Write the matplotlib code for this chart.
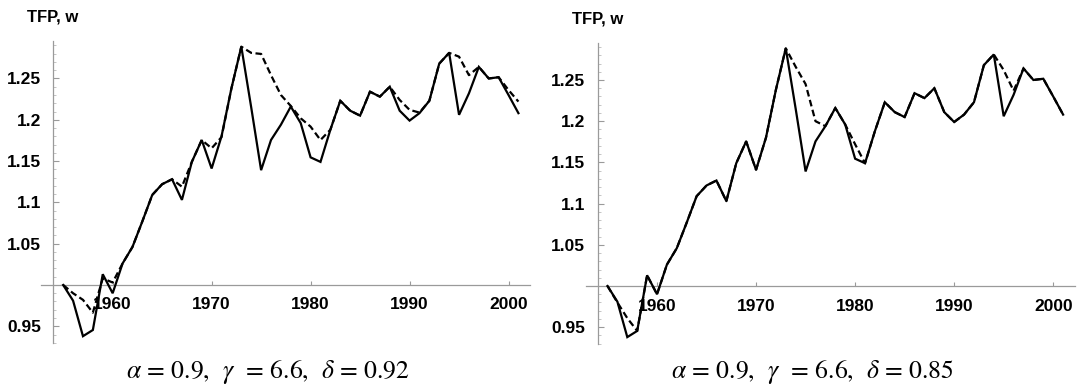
import matplotlib
matplotlib.use("Agg")
import matplotlib.pyplot as plt
from matplotlib.ticker import MultipleLocator, FixedLocator, FuncFormatter

plt.rcParams['mathtext.fontset'] = 'stix'
plt.rcParams['font.family'] = ['Liberation Sans', 'DejaVu Sans']

years = list(range(1955, 2002))

tfp_observed = [1.000, 0.981, 0.938, 0.9455, 1.013, 0.990, 1.026, 1.046, 1.077, 1.109,
                1.122, 1.128, 1.103, 1.149, 1.1755, 1.141, 1.180, 1.238, 1.2885, 1.215,
                1.139, 1.1755, 1.194, 1.216, 1.196, 1.1545, 1.149, 1.188, 1.223, 1.211,
                1.205, 1.234, 1.228, 1.240, 1.211, 1.199, 1.208, 1.223, 1.268, 1.281,
                1.206, 1.232, 1.264, 1.250, 1.2515, 1.230, 1.208]

w_delta_092 = [1.000, 0.990, 0.982, 0.9665, 1.008, 1.003, 1.026, 1.046, 1.077, 1.109,
               1.122, 1.128, 1.119, 1.149, 1.1755, 1.1655, 1.179, 1.238, 1.2885, 1.281,
               1.2797, 1.254, 1.230, 1.2167, 1.2018, 1.1917, 1.1755, 1.188, 1.223, 1.211,
               1.205, 1.234, 1.228, 1.240, 1.224, 1.212, 1.2087, 1.223, 1.268, 1.281,
               1.2764, 1.254, 1.264, 1.250, 1.2515, 1.236, 1.222]

w_delta_085 = [1.000, 0.980, 0.961, 0.9455, 1.013, 0.990, 1.026, 1.046, 1.077, 1.109,
               1.122, 1.128, 1.103, 1.149, 1.1755, 1.141, 1.180, 1.238, 1.2885, 1.266,
               1.245, 1.200, 1.194, 1.216, 1.196, 1.172, 1.149, 1.188, 1.223, 1.211,
               1.205, 1.234, 1.228, 1.240, 1.211, 1.199, 1.208, 1.223, 1.268, 1.281,
               1.262, 1.237, 1.264, 1.250, 1.2515, 1.230, 1.208]

x_ticks = [1960, 1970, 1980, 1990, 2000]
y_ticks = [0.95, 1.05, 1.1, 1.15, 1.2, 1.25]
y_label = "TFP, w"
titles = [r"$\alpha$ = 0.9,  $\gamma$  = 6.6,  $\delta$ = 0.92",
          r"$\alpha$ = 0.9,  $\gamma$  = 6.6,  $\delta$ = 0.85"]
model_series = [w_delta_092, w_delta_085]

W, H = 1081, 390
fig = plt.figure(figsize=(W / 100, H / 100), dpi=100)

xlim = (1952.8, 2002.2)
ylim = (0.93, 1.295)
# pixel boxes: (left, right, top, bottom)
boxes = [(41.4, 530.3, 41.3, 342.8), (585.7, 1075.0, 42.9, 343.7)]
label_pos = [(26.7, 17.5), (571.7, 18.5)]
title_x = [268, 812]

gray = '#9a9a9a'

def fmt(v, pos):
    s = ('%.2f' % v).rstrip('0')
    return s

for i in range(2):
    l, r, t, b = boxes[i]
    ax = fig.add_axes([l / W, 1 - b / H, (r - l) / W, (b - t) / H])
    ax.plot(years, model_series[i], color='black', lw=1.6, dashes=(3, 1.6),
            solid_capstyle='butt', zorder=3)
    ax.plot(years, tfp_observed, color='black', lw=1.6, zorder=4,
            solid_joinstyle='miter')
    ax.set_xlim(*xlim)
    ax.set_ylim(*ylim)
    for s in ['top', 'right']:
        ax.spines[s].set_visible(False)
    ax.spines['left'].set_position(('data', 1954))
    ax.spines['bottom'].set_position(('data', 1.0))
    for s in ['left', 'bottom']:
        ax.spines[s].set_color(gray)
        ax.spines[s].set_linewidth(0.9)
    ax.xaxis.set_major_locator(FixedLocator(x_ticks))
    ax.yaxis.set_major_locator(FixedLocator(y_ticks))
    ax.yaxis.set_minor_locator(MultipleLocator(0.01))
    ax.yaxis.set_major_formatter(FuncFormatter(fmt))
    ax.tick_params(axis='x', direction='in', length=3, width=0.8, color=gray,
                   pad=9, labelsize=12.5)
    ax.tick_params(axis='y', which='major', direction='in', length=4, width=0.8,
                   color=gray, pad=9, labelsize=12.5)
    ax.tick_params(axis='y', which='minor', direction='in', length=2.2, width=0.6,
                   color='#bbbbbb')
    for lab in ax.get_xticklabels() + ax.get_yticklabels():
        lab.set_fontweight('bold')
    lx, ly = label_pos[i]
    fig.text(lx / W, 1 - ly / H, y_label, fontsize=12, fontweight='bold',
             ha='left', va='center')
    fig.text(title_x[i] / W, 1 - 372 / H, titles[i], fontsize=18.5,
             family='STIXGeneral', ha='center', va='center')

fig.savefig('out.png', dpi=100)
